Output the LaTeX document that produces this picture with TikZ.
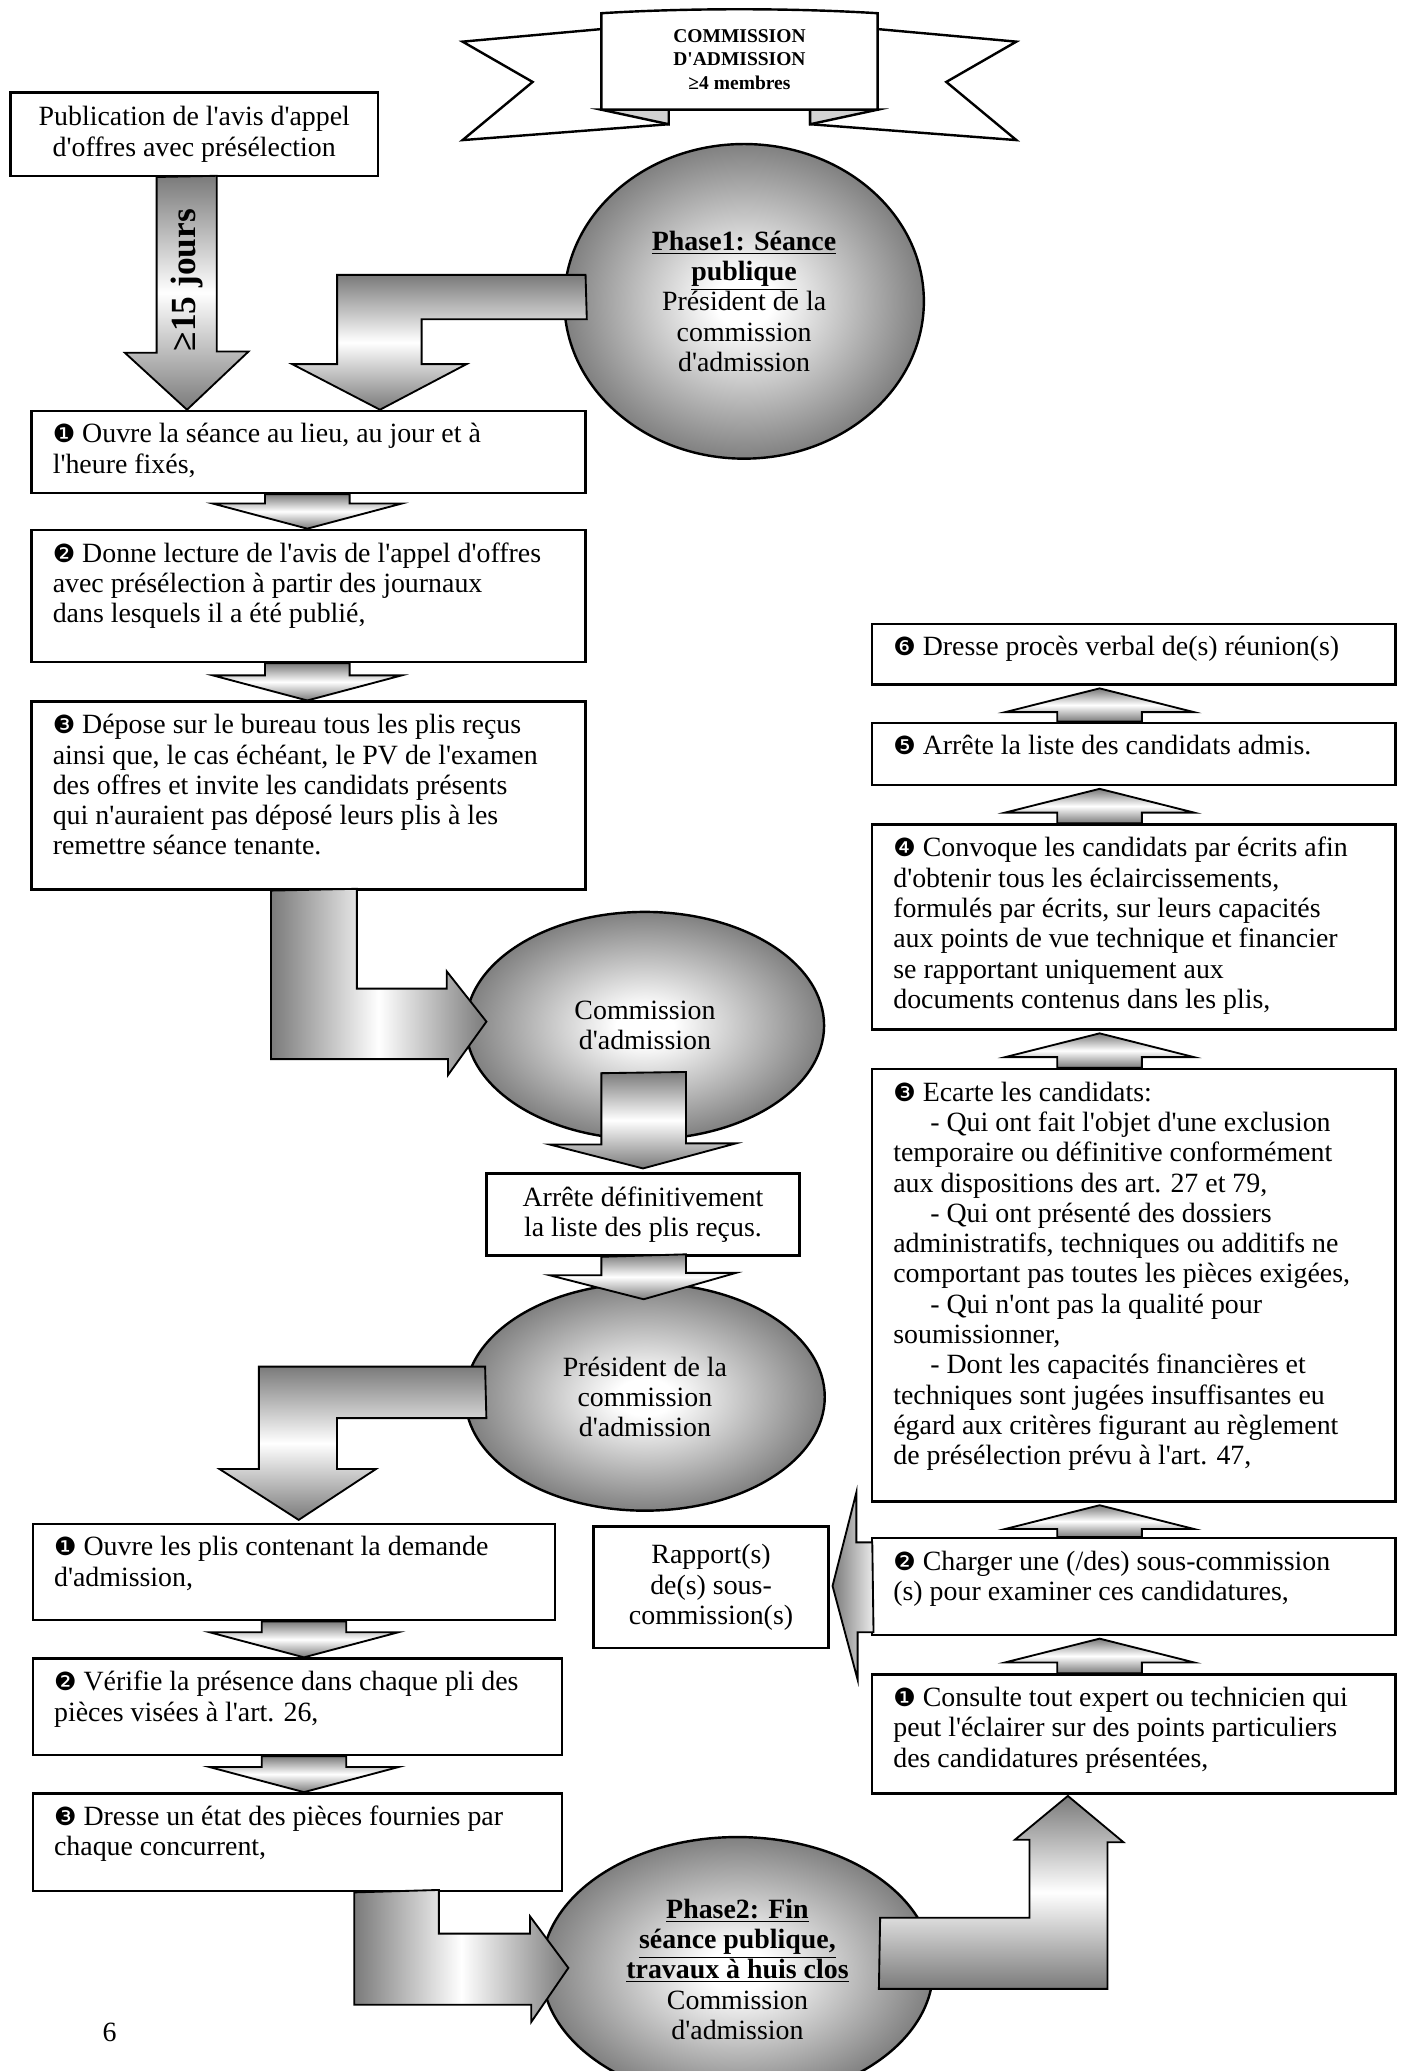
\documentclass[tikz,border=0pt]{standalone}
\usepackage{fontspec}
\setmainfont{Liberation Serif}[Ligatures=TeXOff]
\newfontfamily\dingfont[Scale=0.9]{DejaVu Sans}
\usetikzlibrary{calc,shapes.geometric}
\definecolor{agray}{gray}{0.48}
\pgfdeclareradialshading{ovalshade}{\pgfpoint{0bp}{0bp}}{color(0bp)=(white); color(4bp)=(white); color(26bp)=(agray); color(50bp)=(agray)}

\begin{document}
\begin{tikzpicture}[x=0.025cm, y=-0.025cm,
  task box/.style 2 args={draw, line width=1.3pt, fill=white, anchor=north west,
    inner xsep=0.4cm, inner ysep=0.24cm, font=\fontsize{15}{16.3}\selectfont,
    execute at begin node={\begin{minipage}[t][\dimexpr#2cm-0.48cm\relax][t]{\dimexpr#1cm-0.8cm\relax}\raggedright},
    execute at end node={\end{minipage}}},
  plain box/.style={draw, line width=1.3pt, fill=white, align=center, inner sep=0pt,
    font=\fontsize{15}{16.3}\selectfont},
  oval node/.style={ellipse, draw, line width=1.3pt, shade, shading=ovalshade, align=center,
    inner sep=0pt, font=\fontsize{15}{16.3}\selectfont},
  fat arrow/.style={draw, line width=1pt, top color=agray, bottom color=agray, middle color=white},
  side arrow/.style={draw, line width=1pt, left color=agray, right color=agray, middle color=white},
  ribbon line/.style={draw, line width=1.3pt, fill=white}]

  \useasboundingbox (0,0) rectangle (1060,1567);

  % ribbon
  \path[ribbon line] (455,22) -- (350,31.5) -- (403,62) -- (350,106) -- (506,94) -- (506,60) -- cycle;
  \path[ribbon line] (664,22) -- (769,31.5) -- (716,62) -- (769,106) -- (613,94) -- (613,60) -- cycle;
  \path[ribbon line, fill=gray!35] (455,83) -- (506,83) -- (506,94) -- cycle;
  \path[ribbon line, fill=gray!35] (664,83) -- (613,83) -- (613,94) -- cycle;
  \path[ribbon line] (455,83) -- (455,10) .. controls (520,6) and (599,6) .. (664,10) -- (664,83) -- cycle;
  \node[font=\bfseries\fontsize{10.5}{12.8}\selectfont, align=center] (comm) at (559.5,45) {COMMISSION\\D'ADMISSION\\≥4 membres};

  \node[plain box, minimum width=6.95cm, minimum height=1.575cm] (pub) at (147,101.5) {Publication de l'avis d'appel\\d'offres avec présélection};

  \node[oval node, minimum width=6.8cm, minimum height=5.95cm] (ph1) at (563,228) {\underline{\textbf{Phase1: Séance}}\\\underline{\textbf{publique}}\\Président de la\\commission\\d'admission};
  \node[oval node, minimum width=6.775cm, minimum height=4.3cm] (com) at (488,776) {Commission\\d'admission};
  \node[oval node, minimum width=6.8cm, minimum height=4.3cm] (pres) at (488,1057) {Président de la\\commission\\d'admission};
  \node[oval node, minimum width=7.4cm, minimum height=5cm] (ph2) at (558,1490) {\underline{\textbf{Phase2: Fin}}\\\underline{\textbf{séance publique,}}\\\underline{\textbf{travaux à huis clos}}\\Commission\\d'admission};

  % left column
  \node[task box={10.475}{1.55}] (g1) at (23,310) {{\dingfont ❶} Ouvre la séance au lieu, au jour et à\\l'heure fixés,};
  \node[task box={10.475}{2.5}] (g2) at (23,400) {{\dingfont ❷} Donne lecture de l'avis de l'appel d'offres\\avec présélection à partir des journaux\\dans lesquels il a été publié,};
  \node[task box={10.475}{3.55}] (g3) at (23,530) {{\dingfont ❸} Dépose sur le bureau tous les plis reçus\\ainsi que, le cas échéant, le PV de l'examen\\des offres et invite les candidats présents\\qui n'auraient pas déposé leurs plis à les\\remettre séance tenante.};
  \node[plain box, minimum width=5.925cm, minimum height=1.55cm] (arr) at (486.5,919) {Arrête définitivement\\la liste des plis reçus.};
  \node[task box={9.875}{1.825}] (b1) at (24,1152) {{\dingfont ❶} Ouvre les plis contenant la demande\\d'admission,};
  \node[task box={10}{1.825}] (b2) at (24,1254) {{\dingfont ❷} Vérifie la présence dans chaque pli des\\pièces visées à l'art. 26,};
  \node[task box={10}{1.85}] (b3) at (24,1356) {{\dingfont ❸} Dresse un état des pièces fournies par\\chaque concurrent,};
  \node[plain box, minimum width=4.45cm, minimum height=2.3cm] (rap) at (538,1201) {Rapport(s)\\de(s) sous-\\commission(s)};

  % right column
  \node[task box={9.9}{1.15}] (r6) at (659,471) {{\dingfont ❻} Dresse procès verbal de(s) réunion(s)};
  \node[task box={9.9}{1.175}] (r5) at (659,546) {{\dingfont ❺} Arrête la liste des candidats admis.};
  \node[task box={9.9}{3.875}] (r4) at (659,623) {{\dingfont ❹} Convoque les candidats par écrits afin\\d'obtenir tous les éclaircissements,\\formulés par écrits, sur leurs capacités\\aux points de vue technique et financier\\se rapportant uniquement aux\\documents contenus dans les plis,};
  \node[task box={9.9}{8.175}] (r3) at (659,808) {{\dingfont ❸} Ecarte les candidats:\\\hspace*{0.7cm}- Qui ont fait l'objet d'une exclusion\\temporaire ou définitive conformément\\aux dispositions des art. 27 et 79,\\\hspace*{0.7cm}- Qui ont présenté des dossiers\\administratifs, techniques ou additifs ne\\comportant pas toutes les pièces exigées,\\\hspace*{0.7cm}- Qui n'ont pas la qualité pour\\soumissionner,\\\hspace*{0.7cm}- Dont les capacités financières et\\techniques sont jugées insuffisantes eu\\égard aux critères figurant au règlement\\de présélection prévu à l'art. 47,};
  \node[task box={9.9}{1.825}] (r2) at (659,1163) {{\dingfont ❷} Charger une (/des) sous-commission\\(s) pour examiner ces candidatures,};
  \node[task box={9.9}{2.25}] (r1) at (659,1266) {{\dingfont ❶} Consulte tout expert ou technicien qui\\peut l'éclairer sur des points particuliers\\des candidatures présentées,};

  \node[font=\fontsize{15}{16.3}\selectfont] (pg) at (83,1538) {6};

  % block arrows
  \path[fat arrow] ($(pub.south)+(-28.5,0)$) -- ++(0,133) -- ++(-24,0) -- ($(g1.north west)+(118.5,0)$) -- ++(46.5,-44) -- ++(-24,0) -- ++(0,-133) -- cycle;
  \node[rotate=90, font=\bfseries\fontsize{19}{19}\selectfont] (d15) at (141.5,212) {≥15 jours};

  \path[fat arrow] ($(ph1.west)+(17,-20)$) -- ++(-188,0) -- ++(0,67.5) -- ++(-34,0) -- ($(g1.north west)+(264.5,0)$) -- ++(65.5,-34.5) -- ++(-34,0) -- ++(0,-34) -- ++(125,0) -- cycle;

  \foreach \a/\b/\dx in {g1/g2/209.5, g2/g3/209.5, b1/b2/206, b2/b3/206}
    \path[fat arrow] ($(\a.south west)+(\dx-32,0)$) -- ($(\b.north west)+(\dx-32,-19)$) -- ($(\b.north west)+(\dx-71.5,-19)$) -- ($(\b.north west)+(\dx,0)$) -- ($(\b.north west)+(\dx+71.5,-19)$) -- ($(\b.north west)+(\dx+32,-19)$) -- ($(\a.south west)+(\dx+32,0)$) -- cycle;

  \path[side arrow] ($(g3.south west)+(182,0)$) -- ++(0,127.5) -- ++(134,0) -- ++(0,12) -- ($(com.west)+(16.5,-3)$) -- ++(-30,-38) -- ++(0,13) -- ++(-68,0) -- ++(0,-75.5) -- cycle;

  \path[fat arrow] ($(com.center)+(-33,36)$) -- ++(0,54) -- ++(-39,0) -- ($(arr.north)+(0,-3)$) -- ++(70.5,-19) -- ++(-38,0) -- ++(0,-54) -- cycle;
  \path[fat arrow] ($(arr.south)+(-31.5,0)$) -- ++(0,14) -- ++(-39,0) -- ($(pres.north)+(-1,13)$) -- ++(70,-20) -- ++(-38,0) -- ++(0,-14) -- cycle;

  \path[fat arrow] ($(pres.west)+(16,-23)$) -- ++(-171.2,0) -- ++(0,77.5) -- ++(-29.8,0) -- ($(b1.north west)+(202,-2)$) -- ++(58.5,-38.5) -- ++(-29.5,0) -- ++(0,-38.5) -- ++(113,0) -- cycle;

  \path[side arrow] ($(b3.south west)+(244,0)$) -- ++(0,85) -- ++(134,0) -- ++(0,13) -- ($(ph2.west)+(21,-1)$) -- ++(-29,-39) -- ++(0,13) -- ++(-69,0) -- ++(0,-33) -- cycle;

  \path[fat arrow] ($(ph2.east)+(-41,-39)$) -- ++(113,0) -- ++(0,-59) -- ++(-11,0) -- ($(r1.south west)+(149,1)$) -- ++(42,35) -- ++(-12,0) -- ++(0,111) -- ++(-173,0) -- cycle;

  \foreach \a/\b in {r1/r2, r2/r3, r3/r4, r4/r5, r5/r6}
    \path[fat arrow] ($(\a.north west)+(141,0)$) -- ($(\b.south west)+(141,20)$) -- ($(\b.south west)+(101.5,20)$) -- ($(\b.south west)+(173,2)$) -- ($(\b.south west)+(244.5,20)$) -- ($(\b.south west)+(205,20)$) -- ($(\a.north west)+(205,0)$) -- cycle;

  \path[draw, line width=1pt, left color=agray, right color=white!85!agray] ($(r2.north west)+(1,4)$) -- ++(-12,0) -- ++(0,-38) -- ($(rap.east)+(2,-1)$) -- ++(19,71) -- ++(0,-36) -- ++(12,0) -- cycle;
\end{tikzpicture}
\end{document}
